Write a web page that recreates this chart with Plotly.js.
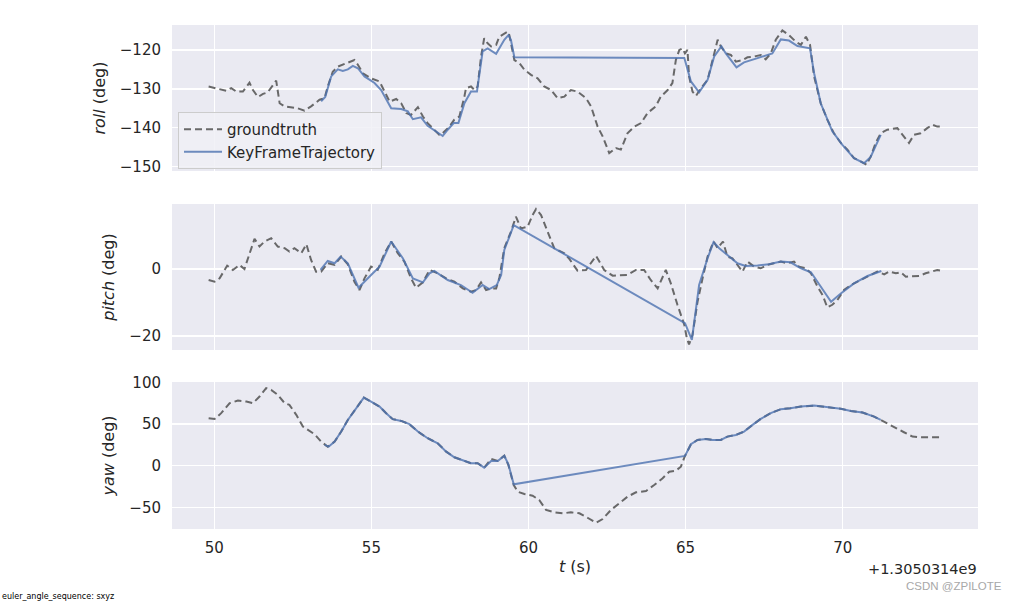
<!DOCTYPE html>
<html><head><meta charset="utf-8">
<script src="https://cdn.plot.ly/plotly-3.0.1.min.js"></script>
<style>html,body{margin:0;padding:0;background:#fff}#chart{width:1019px;height:602px}</style>
</head><body><div id="chart"></div>
<script>
// time offsets (s) relative to 1.3050314e9, value pairs [t, deg]
const rollGroundtruth = [[49.82,-129.4],[50.01,-129.8],[50.22,-130.3],[50.38,-130.5],[50.54,-129.8],[50.70,-130.7],[50.91,-130.7],[51.12,-128.4],[51.23,-130.3],[51.39,-132.1],[51.55,-131.3],[51.70,-130.9],[51.97,-127.9],[52.08,-133.7],[52.24,-134.5],[52.45,-134.8],[52.66,-135.0],[52.87,-135.6],[53.08,-134.5],[53.35,-132.8],[53.51,-132.4],[53.61,-129.4],[53.77,-125.6],[53.93,-124.3],[54.09,-123.8],[54.25,-123.4],[54.46,-122.6],[54.57,-123.8],[54.73,-126.0],[54.99,-127.3],[55.26,-128.1],[55.42,-130.7],[55.58,-133.3],[55.79,-132.6],[55.95,-133.7],[56.11,-136.2],[56.26,-136.7],[56.48,-134.7],[56.64,-137.1],[56.79,-138.8],[57.00,-140.5],[57.16,-141.8],[57.27,-141.4],[57.48,-139.7],[57.64,-137.9],[57.80,-137.1],[57.96,-132.0],[58.01,-129.8],[58.17,-129.4],[58.28,-130.3],[58.38,-129.4],[58.49,-121.7],[58.59,-117.0],[58.70,-118.3],[58.81,-119.1],[58.97,-118.7],[59.07,-116.6],[59.23,-115.7],[59.34,-115.3],[59.39,-116.2],[59.55,-122.6],[59.71,-123.4],[59.87,-125.1],[60.08,-126.4],[60.29,-127.3],[60.50,-129.4],[60.72,-130.3],[60.93,-132.4],[61.14,-132.0],[61.35,-130.3],[61.56,-130.7],[61.83,-132.4],[61.99,-134.5],[62.20,-139.7],[62.36,-142.2],[62.57,-146.5],[62.78,-145.2],[62.94,-145.6],[63.15,-141.4],[63.37,-139.7],[63.58,-138.8],[63.79,-136.2],[64.05,-134.5],[64.21,-132.0],[64.43,-130.3],[64.58,-128.5],[64.69,-122.6],[64.80,-120.0],[64.90,-119.6],[64.98,-120.9],[65.06,-120.0],[65.11,-126.8],[65.22,-130.7],[65.33,-131.8],[65.49,-129.8],[65.70,-127.7],[65.86,-122.6],[66.02,-117.4],[66.12,-119.1],[66.28,-120.9],[66.44,-121.3],[66.60,-123.0],[66.81,-122.6],[66.97,-121.9],[67.18,-121.7],[67.39,-121.3],[67.55,-122.4],[67.71,-120.9],[67.87,-117.4],[68.08,-115.0],[68.29,-116.2],[68.51,-117.9],[68.67,-118.7],[68.83,-116.6],[68.96,-118.7],[69.09,-126.8],[69.30,-133.7],[69.51,-137.9],[69.72,-141.4],[69.94,-143.9],[70.15,-145.6],[70.36,-147.8],[70.57,-148.6],[70.76,-149.5],[70.89,-147.4],[71.05,-143.9],[71.21,-141.4],[71.42,-140.5],[71.74,-140.1],[71.95,-142.2],[72.11,-143.9],[72.27,-141.8],[72.48,-141.4],[72.69,-140.1],[72.85,-139.2],[73.01,-139.7],[73.17,-139.7]];
const rollKeyFrame = [[53.40,-133.2],[53.53,-132.1],[53.72,-126.8],[53.93,-125.0],[54.09,-125.4],[54.25,-125.0],[54.41,-124.1],[54.57,-124.7],[54.78,-126.8],[55.10,-128.5],[55.31,-130.3],[55.63,-135.0],[55.95,-135.2],[56.16,-135.8],[56.32,-137.8],[56.58,-137.3],[56.79,-139.5],[57.06,-140.9],[57.27,-142.1],[57.43,-140.5],[57.62,-138.8],[57.77,-138.8],[57.96,-133.7],[58.17,-130.7],[58.36,-130.7],[58.54,-120.4],[58.70,-119.6],[58.97,-121.0],[59.23,-117.4],[59.36,-116.2],[59.44,-117.4],[59.55,-121.9],[64.96,-122.1],[65.17,-128.1],[65.43,-130.9],[65.70,-127.7],[65.91,-121.7],[66.14,-119.1],[66.28,-120.9],[66.62,-124.5],[66.86,-123.2],[67.29,-122.1],[67.76,-120.9],[68.03,-117.3],[68.29,-117.6],[68.56,-119.0],[68.96,-119.6],[69.09,-126.0],[69.30,-133.7],[69.67,-140.9],[69.99,-144.4],[70.36,-147.8],[70.68,-149.1],[70.89,-147.5],[71.21,-141.8]];
const pitchGroundtruth = [[49.82,-3.3],[50.01,-3.8],[50.17,-2.8],[50.41,1.0],[50.59,-0.3],[50.80,1.2],[50.96,0],[51.28,9.0],[51.44,6.7],[51.60,8.2],[51.81,9.2],[52.02,6.7],[52.24,6.2],[52.39,5.2],[52.55,6.2],[52.77,4.7],[52.93,7.4],[53.08,2.7],[53.24,-0.8],[53.40,-0.8],[53.61,1.7],[53.83,1.2],[54.04,3.7],[54.25,1.4],[54.46,-3.8],[54.62,-6.3],[54.78,-2.8],[54.99,0.7],[55.20,-0.3],[55.42,4.7],[55.63,8.2],[55.84,4.7],[56.05,2.2],[56.26,-2.8],[56.42,-5.6],[56.64,-4.0],[56.85,-0.3],[57.11,-1.3],[57.38,-2.8],[57.64,-3.8],[57.91,-5.8],[58.17,-6.8],[58.33,-6.3],[58.49,-4.0],[58.65,-6.3],[58.81,-5.8],[58.97,-5.8],[59.07,-2.8],[59.23,6.2],[59.44,11.1],[59.60,15.6],[59.76,12.1],[59.97,12.6],[60.13,16.1],[60.24,17.9],[60.40,16.1],[60.61,11.1],[60.82,6.2],[61.14,4.7],[61.30,3.0],[61.56,-0.5],[61.83,-0.3],[62.15,3.9],[62.41,-0.3],[62.68,-2.0],[62.94,-1.8],[63.15,-1.8],[63.42,-0.3],[63.68,-0.3],[63.89,-3.3],[64.11,-5.8],[64.37,-0.3],[64.53,-4.3],[64.74,-10.7],[64.96,-16.7],[65.04,-20.7],[65.11,-22.5],[65.22,-19.7],[65.38,-9.8],[65.54,-2.8],[65.70,3.7],[65.89,8.2],[66.02,6.2],[66.19,8.2],[66.33,3.7],[66.49,3.2],[66.65,1.2],[66.81,-0.8],[66.97,2.2],[67.18,0.7],[67.39,0.2],[67.60,1.2],[67.81,1.7],[68.03,2.2],[68.24,1.7],[68.45,2.2],[68.61,0.7],[68.83,0.2],[68.99,-1.3],[69.20,-5.3],[69.36,-7.8],[69.51,-11.5],[69.67,-10.7],[69.83,-9.3],[70.04,-6.3],[70.26,-4.8],[70.47,-3.8],[70.68,-2.8],[70.89,-1.8],[71.10,-0.8],[71.32,-1.6],[71.48,-0.8],[71.69,-1.3],[71.85,-1.0],[72.01,-2.3],[72.22,-2.3],[72.43,-2.1],[72.64,-1.3],[72.85,-0.6],[73.01,-0.3],[73.17,-0.6]];
const pitchKeyFrame = [[53.38,-0.3],[53.61,2.4],[53.83,1.7],[54.02,3.7],[54.25,1.7],[54.41,-1.8],[54.59,-5.6],[54.99,-1.8],[55.26,0.7],[55.63,8.2],[56.00,3.2],[56.32,-2.8],[56.64,-4.0],[56.85,-1.3],[57.00,-0.6],[57.43,-3.3],[57.85,-4.8],[58.22,-7.1],[58.54,-4.8],[58.75,-6.0],[58.99,-4.8],[59.13,-1.8],[59.23,5.7],[59.39,9.6],[59.53,13.1],[64.98,-16.2],[65.20,-21.2],[65.43,-4.8],[65.70,3.2],[65.89,8.0],[66.07,6.2],[66.33,4.2],[66.65,1.7],[66.91,0.9],[67.29,1.0],[67.65,1.4],[68.03,2.2],[68.34,2.0],[68.67,0.2],[68.99,-1.0],[69.63,-9.8],[69.94,-7.3],[70.36,-4.3],[70.79,-2.1],[71.23,-0.6]];
const yawGroundtruth = [[49.82,57.0],[50.01,56.1],[50.22,63.0],[50.49,75.0],[50.75,78.1],[51.02,76.9],[51.23,75.0],[51.44,82.9],[51.65,93.0],[51.81,91.0],[52.02,85.0],[52.24,75.0],[52.39,73.0],[52.61,61.0],[52.82,46.9],[52.98,42.9],[53.19,37.7],[53.40,28.9],[53.61,22.8],[53.83,28.9],[54.04,40.9],[54.25,54.9],[54.51,69.0],[54.76,81.7],[54.99,76.9],[55.26,70.9],[55.47,63.0],[55.68,55.8],[55.95,53.7],[56.21,49.8],[56.48,40.9],[56.79,32.9],[57.11,26.9],[57.38,16.8],[57.64,10.1],[57.91,6.9],[58.17,2.9],[58.38,2.9],[58.59,-2.4],[58.81,8.1],[59.02,5.6],[59.23,12.0],[59.36,0.8],[59.53,-23.2],[59.66,-31.3],[59.87,-34.0],[60.13,-36.1],[60.34,-41.2],[60.56,-53.2],[60.82,-56.0],[61.09,-57.2],[61.35,-56.0],[61.62,-57.2],[61.88,-62.5],[62.15,-68.5],[62.36,-64.1],[62.62,-53.3],[62.89,-45.2],[63.15,-37.3],[63.42,-32.0],[63.74,-30.4],[64.00,-23.2],[64.27,-15.1],[64.48,-7.2],[64.69,-6.0],[64.85,-1.2],[64.98,11.7],[65.17,25.7],[65.38,30.9],[65.65,32.1],[65.86,30.9],[66.12,30.9],[66.33,34.9],[66.60,36.9],[66.86,40.9],[67.13,48.9],[67.39,56.1],[67.71,63.0],[68.03,67.8],[68.34,69.0],[68.67,70.9],[69.09,72.1],[69.51,70.2],[69.94,68.2],[70.26,65.7],[70.63,63.7],[71.00,58.9],[71.32,52.9],[71.63,46.9],[71.95,40.1],[72.22,34.9],[72.48,34.1],[72.80,34.1],[73.12,34.1]];
const yawKeyFrame = [[53.51,24.9],[53.64,22.8],[53.83,28.9],[54.04,40.9],[54.25,54.9],[54.51,69.0],[54.76,81.7],[54.99,76.9],[55.26,70.9],[55.47,63.0],[55.68,55.8],[55.95,53.7],[56.21,49.8],[56.48,40.9],[56.79,32.9],[57.11,26.9],[57.38,16.8],[57.64,10.1],[57.91,6.9],[58.17,2.9],[58.38,2.9],[58.59,-2.4],[58.81,5.6],[59.02,5.6],[59.23,11.7],[59.36,1.5],[59.53,-22.4],[64.98,11.7],[65.17,25.7],[65.38,30.9],[65.65,32.1],[65.86,30.9],[66.12,30.9],[66.33,34.9],[66.60,36.9],[66.86,40.9],[67.13,48.9],[67.39,56.1],[67.71,63.0],[68.03,67.8],[68.34,69.0],[68.67,70.9],[69.09,72.1],[69.51,70.2],[69.94,68.2],[70.26,65.7],[70.63,63.7],[71.00,58.9],[71.21,55.0]];

const seriesNames = ["groundtruth", "KeyFrameTrajectory"];
const axisLabels = ["<i>roll</i> (deg)", "<i>pitch</i> (deg)", "<i>yaw</i> (deg)"];
const xTickVals = [50, 55, 60, 65, 70];
const rollTicks = [-150, -140, -130, -120];
const pitchTicks = [-20, 0];
const yawTicks = [-50, 0, 50, 100];
const timeOffsetLabel = "+1.3050314e9";

const FONT = "DejaVu Sans, sans-serif";
const gtStyle = {color: "rgba(90,90,90,0.9)", width: 2, dash: "7px,4px"};
const kfStyle = {color: "rgba(76,114,176,0.8)", width: 2};

function mk(pairs, name, style, xa, ya, show) {
  return {x: pairs.map(p => p[0]), y: pairs.map(p => p[1]), type: "scatter", mode: "lines",
    name: name, line: style, xaxis: xa, yaxis: ya, showlegend: show, legendgroup: name, hoverinfo: "skip"};
}
const data = [
  mk(rollGroundtruth, seriesNames[0], gtStyle, "x", "y", true),
  mk(rollKeyFrame, seriesNames[1], kfStyle, "x", "y", true),
  mk(pitchGroundtruth, seriesNames[0], gtStyle, "x2", "y2", false),
  mk(pitchKeyFrame, seriesNames[1], kfStyle, "x2", "y2", false),
  mk(yawGroundtruth, seriesNames[0], gtStyle, "x3", "y3", false),
  mk(yawKeyFrame, seriesNames[1], kfStyle, "x3", "y3", false)
];

const W = 1019, H = 602;
const xDom = [172 / W, 978 / W];
const py = (top, bot) => [1 - bot / H, 1 - top / H];
const xr = [48.654, 74.306];
const tickFont = {family: FONT, size: 15, color: "#262626"};
function xax(anchor, showLabels) {
  return {domain: xDom, range: xr, anchor: anchor, tickvals: xTickVals, showticklabels: showLabels,
    showgrid: true, gridcolor: "#ffffff", gridwidth: 1.3, zeroline: false, showline: false, ticks: "",
    ticklabelstandoff: 8, tickfont: tickFont};
}
function yax(anchor, dom, range, ticks, title) {
  return {domain: dom, range: range, anchor: anchor, tickvals: ticks, showgrid: true, gridcolor: "#ffffff",
    gridwidth: 1.3, zeroline: false, showline: false, ticks: "", ticklabelstandoff: 10,
    tickfont: tickFont,
    title: {text: title, font: {family: FONT, size: 16, color: "#262626"}, standoff: 10}};
}
const layout = {
  width: W, height: H, margin: {l: 0, r: 0, t: 0, b: 0},
  paper_bgcolor: "#ffffff", plot_bgcolor: "#EAEAF2",
  font: {family: FONT, color: "#262626"},
  xaxis: xax("y", false), xaxis2: xax("y2", false),
  xaxis3: Object.assign(xax("y3", true), {title: {text: "<i>t</i> (s)", font: {family: FONT, size: 16, color: "#262626"}, standoff: 4}}),
  yaxis: yax("x", py(25, 171), [-151.1, -113.6], rollTicks, axisLabels[0]),
  yaxis2: yax("x2", py(204, 350), [-24.2, 19.4], pitchTicks, axisLabels[1]),
  yaxis3: yax("x3", py(382, 529), [-76, 100.4], yawTicks, axisLabels[2]),
  showlegend: true,
  legend: {x: 178 / W, y: 1 - 140.5 / H, xanchor: "left", yanchor: "middle", bgcolor: "rgba(240,240,246,0.85)",
    bordercolor: "#cccccc", borderwidth: 1, itemwidth: 38, font: {family: FONT, size: 15, color: "#262626"}, tracegroupgap: 0},
  annotations: [
    {text: timeOffsetLabel, xref: "paper", yref: "paper", x: 979 / W, y: 1 - 568.5 / H, xanchor: "right", yanchor: "middle",
      showarrow: false, font: {family: FONT, size: 14.5, color: "#262626"}},
    {text: "CSDN @ZPILOTE", xref: "paper", yref: "paper", x: 1004 / W, y: 1 - 586 / H, xanchor: "right", yanchor: "middle",
      showarrow: false, font: {family: "Liberation Sans, Arial, sans-serif", size: 11.5, color: "#a8a8a8"}},
    {text: "euler_angle_sequence: sxyz", xref: "paper", yref: "paper", x: 0, y: 1 - 596 / H, xanchor: "left", yanchor: "middle",
      showarrow: false, font: {family: FONT, size: 8, color: "#000000"}}
  ]
};
Plotly.newPlot("chart", data, layout, {displayModeBar: false, staticPlot: true});
</script></body></html>
